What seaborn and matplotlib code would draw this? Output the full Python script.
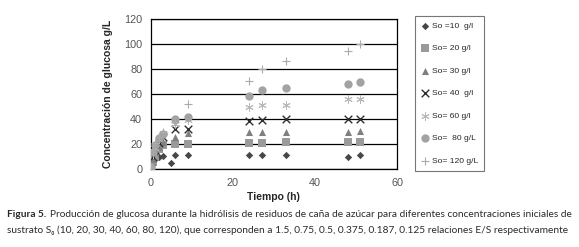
import numpy as np
import pandas as pd
import seaborn as sns
from matplotlib import pyplot as plt

# tiempos de muestreo (h)
tiempo = [0, 0.5, 1, 2, 3, 5, 6, 9, 24, 27, 33, 48, 51]

series = ["So =10  g/l", "So= 20 g/l", "So= 30 g/l", "So= 40  g/l",
          "So= 60 g/l", "So=  80 g/L", "So= 120 g/L"]

so10 = [0, 4, 8, 10, 10.5, 5, 11, 11, 11, 11, 11, 10, 11]
so20 = [1, 6, 10, 16, 19, None, 20, 20.5, 21, 21, 21.5, 21.5, 21.5]
so30 = [1, 8, 13, 18, 22, None, 26, 29, 29.5, 29.5, 29.5, 29.5, 30.5]
so40 = [1, 10, 15, 21, 26, None, 32.5, 32, 38.5, 39.5, 40, 40.5, 40.5]
so60 = [2, 12, 17, 24, 29, None, 36, 39, 49.5, 51.5, 51.5, 56, 56]
so80 = [2, 14, 19, 25, 28, None, 40, 41.5, 58.5, 63.5, 65, 68, 69.5]
so120 = [2, 16, 21, 26, 30, None, 38, 52, 70.5, 80, 86.5, 95, 100]

valores = [so10, so20, so30, so40, so60, so80, so120]

rows = []
for name, vals in zip(series, valores):
    for t, v in zip(tiempo, vals):
        if v is not None:
            rows.append({"tiempo": t, "glucosa": v, "serie": name})
df = pd.DataFrame(rows)

markers = dict(zip(series, ["D", "s", "^", "x", (6, 2, 0), "o", "+"]))
colors = dict(zip(series, ["#474747", "#9a9a9a", "#7f7f7f", "#2e2e2e",
                           "#b8b8b8", "#a3a3a3", "#ababab"]))
sizes = dict(zip(series, [14, 26, 26, 30, 30, 36, 34]))
widths = dict(zip(series, [0, 0, 0, 1.0, 0.7, 0, 0.8]))

sns.set_style("white")
plt.rcParams["font.family"] = ["Liberation Sans Narrow", "Liberation Sans", "DejaVu Sans"]

fig = plt.figure(figsize=(5.79, 2.47), dpi=100)
ax = fig.add_axes([0.26, 0.315, 0.426, 0.607])

for name in series:
    sub = df[df.serie == name]
    sns.scatterplot(data=sub, x="tiempo", y="glucosa", ax=ax, marker=markers[name],
                    color=colors[name], s=sizes[name], linewidth=widths[name],
                    label=name, zorder=3)

ax.set_xlim(0, 60)
ax.set_ylim(0, 120)
ax.set_xticks([0, 20, 40, 60])
ax.set_yticks(np.arange(0, 121, 20))
ax.grid(axis="y", color="black", linewidth=0.9)
ax.grid(axis="x", visible=False)
for s in ax.spines.values():
    s.set_color("black")
    s.set_linewidth(0.9)
ax.tick_params(labelsize=7.8, colors="#555555", length=0, pad=6)
ax.set_xlabel("Tiempo (h)", fontsize=7.5, fontweight="bold", labelpad=3)
ax.set_ylabel("Concentración de glucosa g/L", fontsize=7.5, fontweight="bold", labelpad=8)

leg = ax.legend(loc="upper left", bbox_to_anchor=(0.716, 0.935), bbox_transform=fig.transFigure,
                fontsize=6.1, frameon=True, fancybox=False, labelspacing=1.72,
                handletextpad=0.2, borderpad=0.7, handlelength=1.1, borderaxespad=0)
leg.get_frame().set_edgecolor("#555555")
leg.get_frame().set_linewidth(0.8)

cap_font = ["Lato", "DejaVu Sans"]
cap_size = 7.3
t1 = fig.text(0.012, 0.12, "Figura 5.", fontsize=cap_size, fontweight="bold", family=cap_font, color="#2a2a2a")
fig.canvas.draw()
bb = t1.get_window_extent().transformed(fig.transFigure.inverted())
fig.text(bb.x1 + 0.006, 0.12, "Producción de glucosa durante la hidrólisis de residuos de caña de azúcar para diferentes "
         "concentraciones iniciales de", fontsize=cap_size, family=cap_font, color="#2a2a2a")
fig.text(0.012, 0.055, "sustrato Sₒ (10, 20, 30, 40, 60, 80, 120), que corresponden a 1.5, 0.75, 0.5, 0.375, 0.187, "
         "0.125 relaciones E/S respectivamente", fontsize=cap_size, family=cap_font, color="#2a2a2a")

fig.savefig("out.png", dpi=100)
